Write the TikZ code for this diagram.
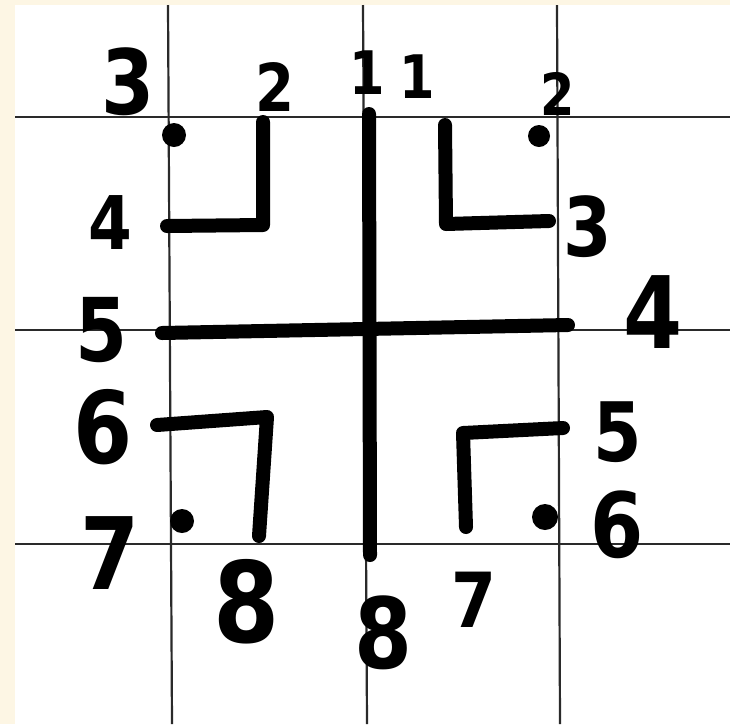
\documentclass[tikz,border=0pt]{standalone}
\usepackage{fontspec}
\newfontfamily\hand{DejaVu Sans}[FakeStretch=0.85]
\definecolor{cream}{HTML}{FDF6E4}
\definecolor{gridgray}{HTML}{2A2A2A}
\tikzset{
  dig/.style={font=\hand\bfseries\fontsize{#1pt}{#1pt}\selectfont, inner sep=0pt, text=black},
  dig/.default=80,
  gridline/.style={draw=gridgray, line width=2.2pt},
  wall/.style={draw=black, line width=14pt, line cap=round, line join=round},
  post/.style={fill=black}
}
\begin{document}
\begin{tikzpicture}[x=1pt,y=-1pt]
\useasboundingbox (0,0) rectangle (730,724);
\fill[cream] (0,0) rectangle (730,724);
\fill[white] (15,5) rectangle (730,724);
% grid
\coordinate (v1t) at (168,5);   \coordinate (v1b) at (172,724);
\coordinate (v2t) at (363,5);   \coordinate (v2b) at (367,724);
\coordinate (v3t) at (557,5);   \coordinate (v3b) at (560,724);
\coordinate (h1l) at (15,117);  \coordinate (h1r) at (730,117);
\coordinate (h2l) at (15,330);  \coordinate (h2r) at (730,330);
\coordinate (h3l) at (15,544);  \coordinate (h3r) at (730,544);
\draw[gridline] (v1t) -- (v1b);
\draw[gridline] (v2t) -- (v2b);
\draw[gridline] (v3t) -- (v3b);
\draw[gridline] (h1l) -- (h1r);
\draw[gridline] (h2l) -- (h2r);
\draw[gridline] (h3l) -- (h3r);
% central cross
\coordinate (ct) at (369,114); \coordinate (cb) at (370,555);
\coordinate (cl) at (162,333); \coordinate (cr) at (568,325);
\draw[wall] (ct) -- (cb);
\draw[wall] (cl) -- (cr);
% top-left corner
\coordinate (tla) at (263,122); \coordinate (tlb) at (263,225); \coordinate (tlc) at (167,226);
\draw[wall] (tla) -- (tlb) -- (tlc);
\fill[post] (174,135) circle (12);
% top-right corner
\coordinate (tra) at (445,125); \coordinate (trb) at (446,224); \coordinate (trc) at (549,221);
\draw[wall] (tra) -- (trb) -- (trc);
\fill[post] (539,136) circle (11);
% bottom-left corner
\coordinate (bla) at (157,425); \coordinate (blb) at (267,417); \coordinate (blc) at (259,536);
\draw[wall] (bla) -- (blb) -- (blc);
\fill[post] (182,521) circle (12);
% bottom-right corner
\coordinate (bra) at (466,527); \coordinate (brb) at (463,433); \coordinate (brc) at (563,428);
\draw[wall] (bra) -- (brb) -- (brc);
\fill[post] (545,517) circle (13);
% labels
\node[dig=90] (t3) at (128,82) {3};
\node[dig=66] (t2) at (275,87) {2};
\node[dig=60] (t1a) at (367,73) {1};
\node[dig=60] (t1b) at (417,77) {1};
\node[dig=58] (r2) at (558,94) {2};
\node[dig=74] (l4) at (110,223) {4};
\node[dig=82] (r3) at (588,227) {3};
\node[dig=88] (l5) at (102,330) {5};
\node[dig=100] (r4) at (653,312) {4};
\node[dig=100] (l6) at (103,427) {6};
\node[dig=82] (r5) at (618,432) {5};
\node[dig=100] (l7) at (110,553) {7};
\node[dig=90] (r6) at (617,525) {6};
\node[dig=112] (b8a) at (247,602) {8};
\node[dig=98] (b8b) at (383,633) {8};
\node[dig=76] (b7) at (474,600) {7};
\end{tikzpicture}
\end{document}
